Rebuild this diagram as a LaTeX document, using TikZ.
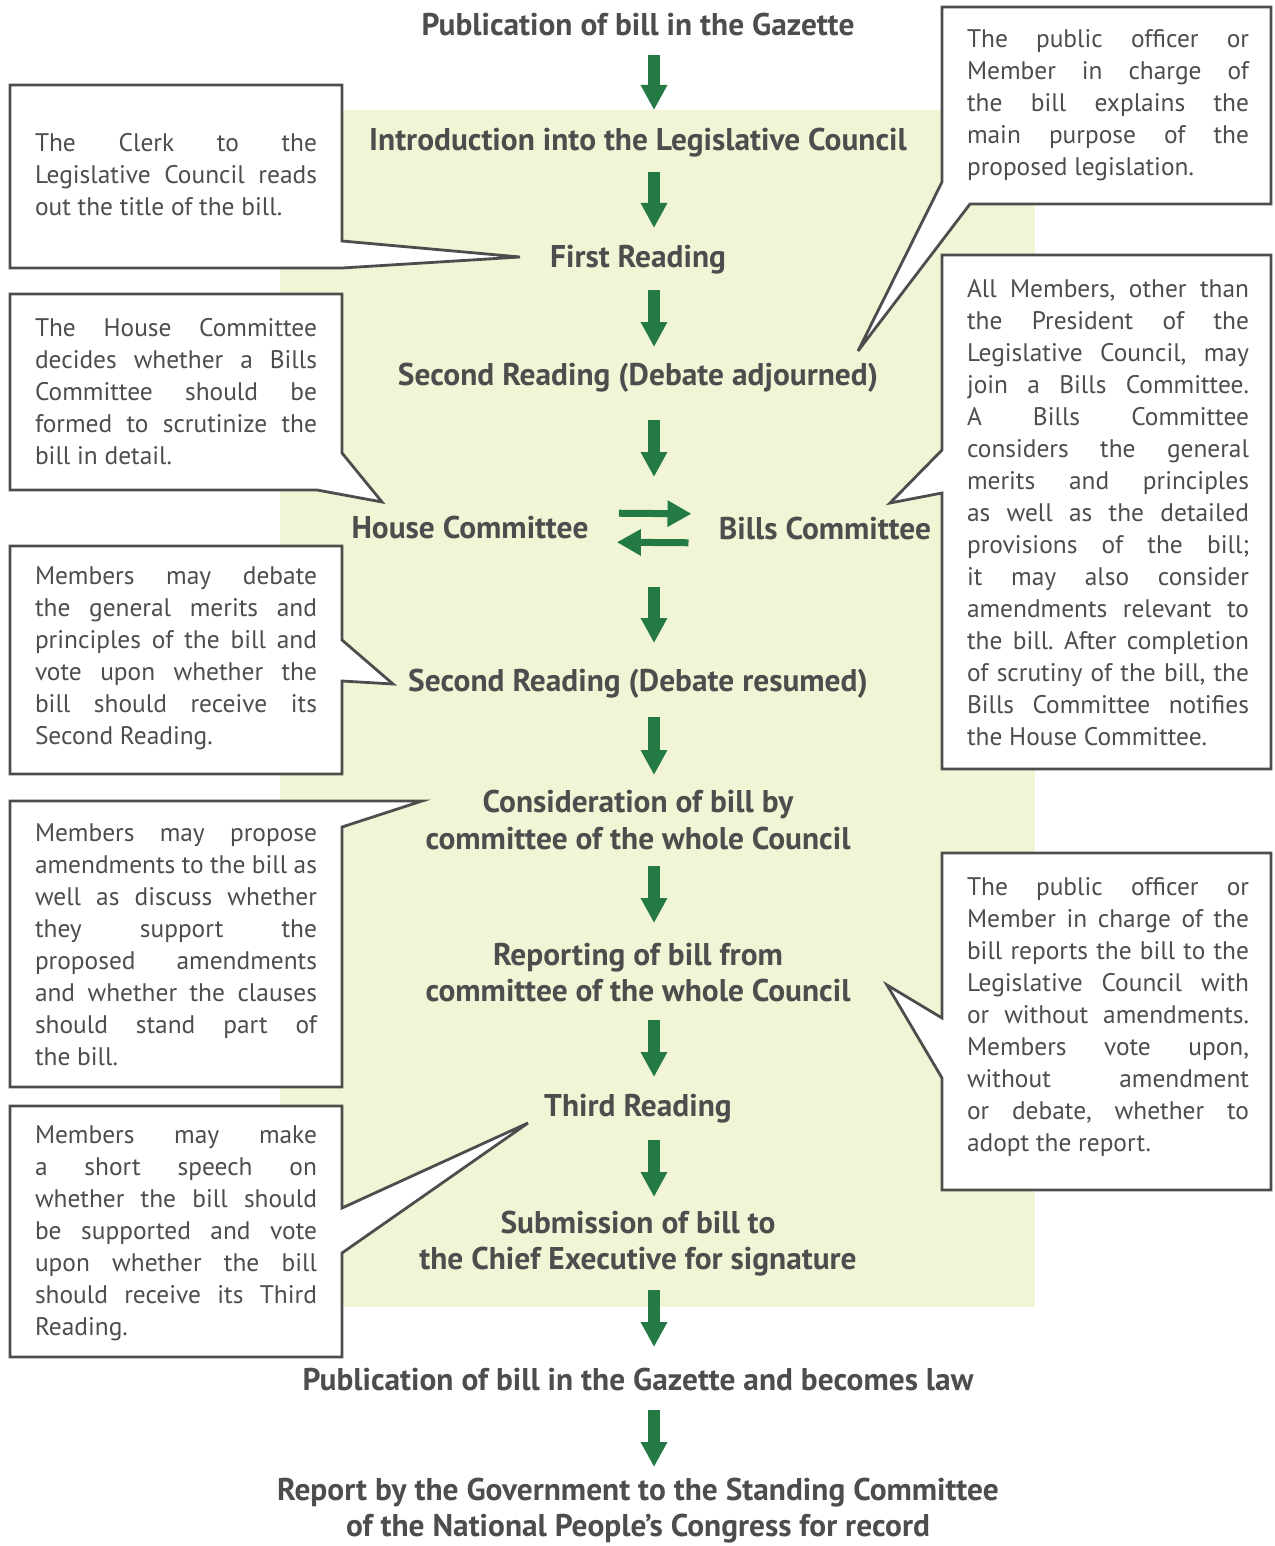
\documentclass[tikz,border=0pt]{standalone}
\usepackage{fontspec}
\setmainfont{PT Sans}
\usepackage{tikz}
\usetikzlibrary{arrows.meta}
\definecolor{leafgreen}{HTML}{237A45}
\definecolor{paleback}{HTML}{F1F5D5}
\definecolor{inkgray}{HTML}{4D4D4D}
\hyphenpenalty=10000
\tolerance=10000
\emergencystretch=20pt
\frenchspacing

\tikzset{
  stage/.style={font=\bfseries\fontsize{15.7}{18}\selectfont, text=inkgray, align=center, inner sep=0pt},
  note/.style={font=\fontsize{12.7}{16}\selectfont, text=inkgray, text width=141pt, align=justify, inner sep=0pt},
  notebox/.style={fill=white, draw=inkgray, line width=1.4pt, line join=miter},
  flow/.style={leafgreen, line width=6pt, -{Triangle[width=12.5pt,length=12.5pt]}},
  backforth/.style={leafgreen, line width=3.5pt, -{Triangle[width=12.5pt,length=12pt]}}
}

\newcommand{\noteCallout}[4]{
    % Outline of the note with its pointer
    \filldraw[notebox] #1 -- cycle;
    % Text of the note
    \node[note] (#2) at #3 {#4};
}

\begin{document}
\begin{tikzpicture}[x=0.5pt, y=-0.5pt]
  \useasboundingbox (0,0) rectangle (1274,1546);
  % Shade behind the Council stages
  \fill[paleback] (280,110) rectangle (1035,1307);

  % Notes on the left
  \noteCallout{(10,85) -- (342,85) -- (342,241) -- (520,257) -- (342,268) -- (10,268)}{noteclerk}{(176,175)}
    {The Clerk to the\linebreak Legislative Council reads\linebreak out the title of the bill.}
  \noteCallout{(10,294) -- (342,294) -- (342,453) -- (382,502) -- (317,490) -- (10,490)}{notehouse}{(176,392)}
    {The House Committee\linebreak decides whether a Bills\linebreak Committee should be\linebreak formed to scrutinize the\linebreak bill in detail.}
  \noteCallout{(10,546) -- (342,546) -- (342,640) -- (393,684) -- (342,681) -- (342,774) -- (10,774)}{notedebate}{(176,658)}
    {Members may debate\linebreak the general merits and\linebreak principles of the bill and\linebreak vote upon whether the\linebreak bill should receive its\linebreak Second Reading.}
  \noteCallout{(10,801) -- (422,801) -- (342,827) -- (342,1087) -- (10,1087)}{noteamend}{(176,945)}
    {Members may propose\linebreak amendments to the bill as\linebreak well as discuss whether\linebreak they support the\linebreak proposed amendments\linebreak and whether the clauses\linebreak should stand part of\linebreak the bill.}
  \noteCallout{(10,1106) -- (342,1106) -- (342,1208) -- (528,1123) -- (342,1253) -- (342,1357) -- (10,1357)}{notespeech}{(176,1233)}
    {Members may make\linebreak a short speech on\linebreak whether the bill should\linebreak be supported and vote\linebreak upon whether the bill\linebreak should receive its Third\linebreak Reading.}

  % Notes on the right
  \noteCallout{(942,7) -- (1271,7) -- (1271,204) -- (970,204) -- (858,351) -- (942,182)}{notepurpose}{(1108,105)}
    {The public officer or\linebreak Member in charge of\linebreak the bill explains the\linebreak main purpose of the\linebreak proposed legislation.}
  \noteCallout{(942,255) -- (1271,255) -- (1271,769) -- (942,769) -- (942,493) -- (890,503) -- (942,450)}{notebills}{(1108,513)}
    {All Members, other than\linebreak the President of the\linebreak Legislative Council, may\linebreak join a Bills Committee.\linebreak A Bills Committee\linebreak considers the general\linebreak merits and principles\linebreak as well as the detailed\linebreak provisions of the bill;\linebreak it may also consider\linebreak amendments relevant to\linebreak the bill. After completion\linebreak of scrutiny of the bill, the\linebreak Bills Committee notifies\linebreak the House Committee.}
  \noteCallout{(942,853) -- (1271,853) -- (1271,1190) -- (942,1190) -- (942,1078) -- (887,985) -- (942,1018)}{notereport}{(1108,1017)}
    {The public officer or\linebreak Member in charge of the\linebreak bill reports the bill to the\linebreak Legislative Council with\linebreak or without amendments.\linebreak Members vote upon,\linebreak without amendment\linebreak or debate, whether to\linebreak adopt the report.}

  % Stages of the bill
  \node[stage] (gazette) at (638,25) {Publication of bill in the Gazette};
  \node[stage] (intro) at (638,143) {Introduction into the Legislative Council};
  \node[stage] (first) at (638,260) {First Reading};
  \node[stage] (adjourned) at (638,378) {Second Reading (Debate adjourned)};
  \node[stage] (house) at (470,528) {House Committee};
  \node[stage] (bills) at (825,529) {Bills Committee};
  \node[stage] (resumed) at (638,684) {Second Reading (Debate resumed)};
  \node[stage] (whole) at (638,820) {Consideration of bill by\\committee of the whole Council};
  \node[stage] (reporting) at (638,973) {Reporting of bill from\\committee of the whole Council};
  \node[stage] (third) at (638,1109) {Third Reading};
  \node[stage] (submit) at (638,1244) {Submission of bill to\\the Chief Executive for signature};
  \node[stage] (law) at (638,1379) {Publication of bill in the Gazette and becomes law};
  \node[stage] (record) at (638,1511) {Report by the Government to the Standing Committee\\of the National People's Congress for record};

  % Line of the arrows and the committee crossing
  \coordinate (ax) at (654,0);
  \coordinate (hub) at (654,528);

  % Arrows down the stages
  \foreach \a/\b/\s/\e in {gazette/intro/15/16.5, intro/first/14.5/16, first/adjourned/15/15.5,
      adjourned/hub/21/25.5, hub/resumed/29.5/20.5, resumed/whole/16.5/22.5, whole/reporting/23/25,
      reporting/third/23.5/16, third/submit/15.5/23.5, submit/law/23/16, law/record/15.5/22} {
    \draw[flow, shorten <=\s pt, shorten >=\e pt] (\a -| ax) -- (\b -| ax);
  }

  % Arrows between the two committees
  \draw[backforth, shorten <=15pt, shorten >=13.5pt] ([yshift=7.5pt]house.east) -- ([yshift=7.5pt]bills.west);
  \draw[backforth, shorten <=15pt, shorten >=14pt] ([yshift=-7pt]bills.west) -- ([yshift=-7pt]house.east);
\end{tikzpicture}
\end{document}
